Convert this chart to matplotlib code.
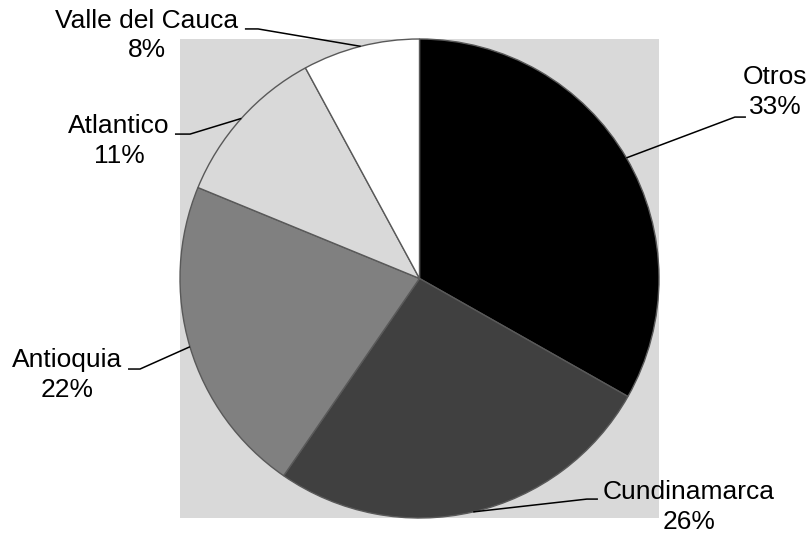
import numpy as np
import matplotlib
matplotlib.use("Agg")
import matplotlib.pyplot as plt

plt.rcParams['font.family'] = ['Liberation Sans', 'DejaVu Sans']

# slice data, clockwise from 12 o'clock
regions = ["Otros", "Cundinamarca", "Antioquia", "Atlantico", "Valle del Cauca"]
shares = [33.2, 26.4, 21.6, 10.9, 7.9]
colors = ["#000000", "#404040", "#808080", "#d9d9d9", "#ffffff"]

# label block centres and leader elbows/ends (axes data units, pie radius = 1)
label_pos = [(1.484, 0.779), (1.125, -0.954), (-1.472, -0.403), (-1.255, 0.574), (-1.138, 1.014)]
elbow_pos = [(1.317, 0.674), (0.699, -0.921), (-1.167, -0.378), (-0.958, 0.603), (-0.674, 1.042)]
end_pos = [(1.363, 0.674), (0.745, -0.921), (-1.217, -0.378), (-1.021, 0.603), (-0.729, 1.042)]

W, H = 811, 534
fig = plt.figure(figsize=(W / 100, H / 100), dpi=100)
ax = fig.add_axes([180 / W, (H - 518) / H, 479 / W, 479 / H])

wedges, _ = ax.pie(shares, colors=colors, startangle=90, counterclock=False,
                   radius=1, wedgeprops=dict(edgecolor="#595959", linewidth=1.0))

# pie() switches the frame off, bring back the grey plot area
ax.set_frame_on(True)
ax.patch.set_facecolor("#d9d9d9")
for s in ax.spines.values():
    s.set_visible(False)
ax.set_xlim(-1, 1)
ax.set_ylim(-1, 1)
ax.set_aspect("auto")
ax.set_xticks([])
ax.set_yticks([])

total = sum(shares)
for w, name, v, lp, ep, en in zip(wedges, regions, shares, label_pos, elbow_pos, end_pos):
    mid = np.deg2rad((w.theta1 + w.theta2) / 2)
    x0, y0 = np.cos(mid), np.sin(mid)
    ax.plot([x0, ep[0], en[0]], [y0, ep[1], en[1]], color="black", lw=1.1,
            clip_on=False, solid_capstyle="butt")
    ax.text(lp[0], lp[1], f"{name}\n{round(v / total * 100)}%", ha="center", va="center",
            fontsize=19, linespacing=1.3, clip_on=False)

fig.savefig("out.png", dpi=100)
